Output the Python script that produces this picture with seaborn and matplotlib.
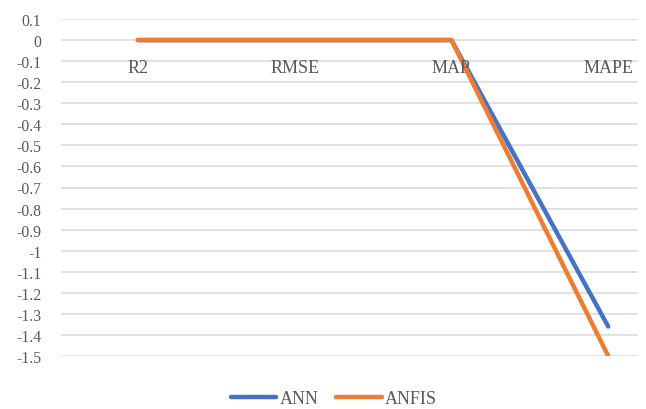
import matplotlib
matplotlib.use("Agg")
import matplotlib.pyplot as plt
from matplotlib.lines import Line2D
import numpy as np
import pandas as pd
import seaborn as sns

categories = ["R2", "RMSE", "MAP", "MAPE"]
ann = [0.0, 0.0, 0.0, -1.36]
anfis = [0.0, 0.0, 0.0, -1.5]
series_names = ["ANN", "ANFIS"]
colors = ["#4472C4", "#ED7D31"]
y_ticks = np.round(np.arange(-1.5, 0.1001, 0.1), 1)

sns.set_theme(style="white")
plt.rcParams["font.family"] = ["Liberation Serif", "DejaVu Serif"]

df = pd.DataFrame({
    "pos": list(range(len(categories))) * 2,
    "value": ann + anfis,
    "series": [series_names[0]] * len(ann) + [series_names[1]] * len(anfis),
})

fig = plt.figure(figsize=(6.46, 4.10), dpi=100)
ax = fig.add_axes([61 / 646, 1 - 357 / 410, (638 - 61) / 646, (357 - 20) / 410])

sns.lineplot(data=df, x="pos", y="value", hue="series", hue_order=series_names,
             palette=colors, linewidth=3.2, sort=False, ax=ax, legend=False,
             solid_capstyle="round", zorder=3)

ax.set_xlim(-0.49, 3.19)
ax.set_ylim(-1.5, 0.1)
ax.set_yticks(y_ticks)
ax.set_yticklabels([f"{t:g}" if t != 0 else "0" for t in y_ticks])
ax.set_xticks([])
ax.set_xlabel("")
ax.set_ylabel("")
ax.grid(axis="y", color="#D9D9D9", linewidth=1.1)
ax.set_axisbelow(True)
for s in ax.spines.values():
    s.set_visible(False)
ax.tick_params(axis="y", length=0, pad=14, labelsize=11.3, labelcolor="#595959")

# category labels sit just under the zero line
for i, c in enumerate(categories):
    ax.text(i, -0.152, c, ha="center", va="baseline", fontsize=13, color="#595959")

handles = [Line2D([0], [0], color=c, linewidth=3.2, solid_capstyle="round") for c in colors]
fig.legend(handles, series_names, loc="center", bbox_to_anchor=(0.517, 1 - 400 / 410),
           ncol=2, frameon=False, fontsize=13, labelcolor="#595959",
           handlelength=2.5, handletextpad=0.2, columnspacing=1.0,
           borderpad=0.1, bbox_transform=fig.transFigure)

fig.savefig("out.png", dpi=100)
